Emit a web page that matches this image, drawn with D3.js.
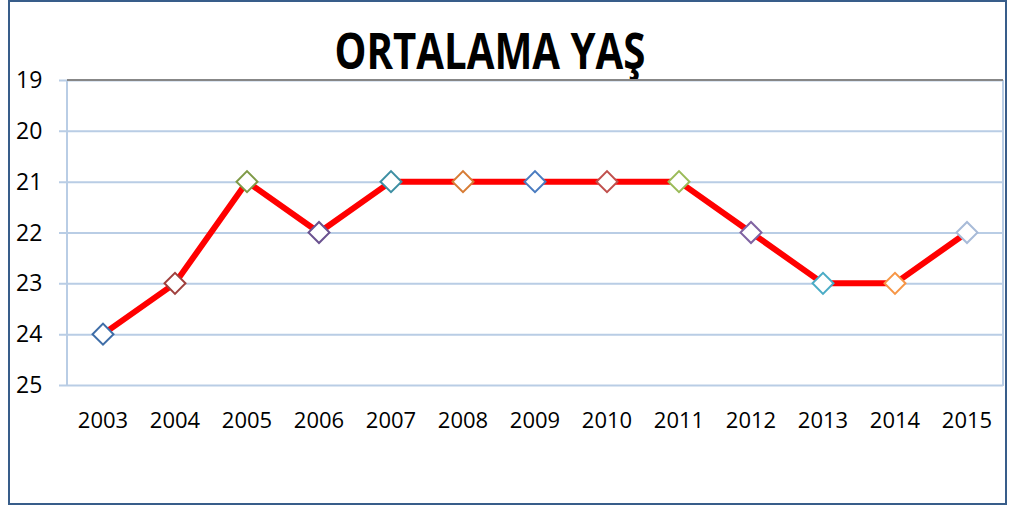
<!DOCTYPE html>
<html>
<head>
<meta charset="utf-8">
<script src="https://cdnjs.cloudflare.com/ajax/libs/d3/7.8.5/d3.min.js"></script>
<style>
  body { margin: 0; background: #fff; }
  svg { display: block; }
</style>
</head>
<body>
<svg width="1009" height="507"></svg>
<script>
// chart data
var years = ['2003','2004','2005','2006','2007','2008','2009','2010','2011','2012','2013','2014','2015'];
var ages = [24, 23, 21, 22, 21, 21, 21, 21, 21, 22, 23, 23, 22];
var yTicks = [19, 20, 21, 22, 23, 24, 25];
// excel "vary colors by point" marker outlines
var markerColors = ['#3f6ea8','#a0413e','#7f9a47','#6b5390','#3d8fa3','#d77c35',
                    '#4a7cc0','#c0504d','#9bbb59','#8064a2','#4bacc6','#f79646','#a8bbd8'];
var title = 'ORTALAMA YAŞ';

var svg = d3.select('svg');
var font = '"Open Sans", "Noto Sans", sans-serif';

// outer frame
svg.append('rect')
    .attr('x', 9).attr('y', 1)
    .attr('width', 997).attr('height', 503)
    .style('fill', 'white')
    .style('stroke', '#385d8a')
    .style('stroke-width', 2);

// plot area (don't name these top/left: window.top is read-only)
var plotLeft = 67, plotRight = 1003, plotTop = 80, plotBottom = 385;

var x = d3.scaleBand().domain(years).range([plotLeft, plotRight]);
// reversed value axis: 19 on top
var y = d3.scaleLinear().domain([19, 25]).range([plotTop, plotBottom]);

// title
svg.append('text')
    .attr('x', 490).attr('y', 69)
    .attr('text-anchor', 'middle')
    .attr('textLength', 311)
    .attr('lengthAdjust', 'spacingAndGlyphs')
    .style('font-family', font)
    .style('font-weight', 'bold')
    .style('font-size', '51px')
    .style('fill', '#000')
    .text(title);

// horizontal gridlines + left ticks
var yAxis = d3.axisLeft(y).tickValues(yTicks).tickSize(-(plotRight - plotLeft)).tickFormat('');
var gy = svg.append('g').attr('transform', 'translate(' + plotLeft + ',0)').call(yAxis);
gy.select('.domain').remove();
gy.selectAll('.tick line')
    .attr('x1', -8)
    .style('stroke', '#b9cde5')
    .style('stroke-width', 2);

// vertical edges of plot area
svg.append('line')
    .attr('x1', plotLeft).attr('x2', plotLeft).attr('y1', plotTop).attr('y2', plotBottom + 1)
    .style('stroke', '#b9cde5').style('stroke-width', 2);
svg.append('line')
    .attr('x1', plotRight).attr('x2', plotRight).attr('y1', plotTop).attr('y2', plotBottom + 1)
    .style('stroke', '#b9cde5').style('stroke-width', 2);

// category axis line sits on top because values are reversed
svg.append('line')
    .attr('x1', plotLeft).attr('x2', plotRight).attr('y1', y(19)).attr('y2', y(19))
    .style('stroke', '#878787').style('stroke-width', 2);

// y labels
svg.selectAll('.ylab')
    .data(yTicks)
    .enter().append('text')
    .attr('class', 'ylab')
    .attr('x', 16)
    .attr('y', function(d) { return y(d) + 8; })
    .style('font-family', font)
    .style('font-size', '23px')
    .style('fill', '#000')
    .text(function(d) { return d; });

// x labels
svg.selectAll('.xlab')
    .data(years)
    .enter().append('text')
    .attr('class', 'xlab')
    .attr('x', function(d) { return x(d) + x.bandwidth() / 2; })
    .attr('y', 428)
    .attr('text-anchor', 'middle')
    .style('font-family', font)
    .style('font-size', '22px')
    .style('fill', '#000')
    .text(function(d) { return d; });

// line
var line = d3.line()
    .x(function(d, i) { return x(years[i]) + x.bandwidth() / 2; })
    .y(function(d) { return y(d); });

svg.append('path')
    .datum(ages)
    .attr('d', line)
    .style('fill', 'none')
    .style('stroke', '#ff0000')
    .style('stroke-width', 6)
    .style('stroke-linejoin', 'round');

// diamond markers
var diamond = d3.symbol().type(d3.symbolSquare).size(220);
svg.selectAll('.marker')
    .data(ages)
    .enter().append('path')
    .attr('class', 'marker')
    .attr('d', diamond)
    .attr('transform', function(d, i) {
      return 'translate(' + (x(years[i]) + x.bandwidth() / 2) + ',' + y(d) + ') rotate(45)';
    })
    .style('fill', 'white')
    .style('stroke', function(d, i) { return markerColors[i]; })
    .style('stroke-width', 2);
</script>
</body>
</html>
